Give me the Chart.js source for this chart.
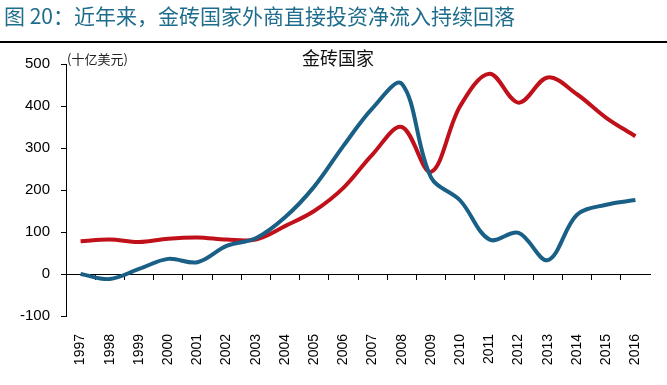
<!DOCTYPE html>
<html lang="zh">
<head>
  <meta charset="UTF-8">
  <title>金砖国家外商直接投资净流入</title>
  <script src="https://cdn.jsdelivr.net/npm/chart.js"></script>
  <style>
    html, body { margin: 0; padding: 0; background: #fff; }
    #wrap { position: relative; width: 667px; height: 385px; overflow: hidden; }
    #chartBox { position: absolute; left: 0; top: 0; width: 667px; height: 385px; }
    .txt { position: absolute; white-space: nowrap; font-family: "Noto Sans CJK SC", sans-serif; }
    #fig-title { left: 4px; top: 5px; font-size: 21px; line-height: 21px; color: #1f6d8c; }
    #rule { position: absolute; left: 0; top: 41px; width: 667px; height: 2px; background: #000; }
    #chart-title { left: 302px; top: 48px; width: 72px; text-align: center; font-size: 18px; line-height: 18px; color: #111; }
    #unit { left: 67px; top: 52px; font-size: 13px; line-height: 13px; color: #222; }
  </style>
</head>
<body>
  <div id="wrap">
    <div id="chartBox"><canvas id="fdiChart"></canvas></div>
    <div class="txt" id="fig-title">图 20：近年来，金砖国家外商直接投资净流入持续回落</div>
    <div id="rule"></div>
    <div class="txt" id="chart-title">金砖国家</div>
    <div class="txt" id="unit">(十亿美元)</div>
  </div>

  <script>
    // years on the x axis
    const years = ['1997', '1998', '1999', '2000', '2001', '2002', '2003', '2004', '2005', '2006',
                   '2007', '2008', '2009', '2010', '2011', '2012', '2013', '2014', '2015', '2016'];

    // blue series (十亿美元)
    const blueSeries = [0, -12, 12, 36, 28, 67, 85, 135, 208, 305,
                        395, 453, 230, 175, 82, 98, 33, 141, 165, 176];

    // red series (十亿美元)
    const redSeries = [78, 82, 76, 84, 87, 82, 82, 114, 150, 205,
                       285, 350, 243, 400, 477, 408, 468, 428, 372, 328];

    // y axis range / step
    const yMin = -100;
    const yMax = 500;
    const yStep = 100;

    const tickFont = { family: '"Liberation Sans", Arial, sans-serif', size: 15 };

    new Chart(document.getElementById('fdiChart'), {
      type: 'line',
      data: {
        labels: years,
        datasets: [
          {
            label: '蓝线',
            data: blueSeries,
            borderColor: '#1a5f86',
            borderWidth: 4,
            pointRadius: 0,
            tension: 0.35,
            fill: false
          },
          {
            label: '红线',
            data: redSeries,
            borderColor: '#c0111b',
            borderWidth: 4,
            pointRadius: 0,
            tension: 0.35,
            fill: false
          }
        ]
      },
      options: {
        responsive: true,
        maintainAspectRatio: false,
        animation: false,
        devicePixelRatio: 1,
        layout: { padding: { top: 64, right: 17, bottom: 0, left: 0 } },
        plugins: {
          legend: { display: false },
          title: { display: false },
          tooltip: { enabled: false }
        },
        scales: {
          // labels at the bottom
          x: {
            type: 'category',
            position: 'bottom',
            offset: true,
            grid: { display: false },
            border: { display: false },
            ticks: {
              autoSkip: false,
              minRotation: 90,
              maxRotation: 90,
              padding: 10,
              color: '#000',
              font: { family: '"Liberation Sans", Arial, sans-serif', size: 14 }
            },
            afterFit: s => { s.height = 69; }
          },
          // axis line through zero with the tick marks
          x0: {
            type: 'category',
            axis: 'x',
            position: { y: 0 },
            offset: true,
            grid: {
              offset: true,
              drawOnChartArea: false,
              drawTicks: true,
              tickLength: 5,
              lineWidth: 1,
              color: ctx => ctx.type === 'tick' ? '#000' : 'rgba(0,0,0,0)'
            },
            border: { display: true, color: '#000', width: 1 },
            ticks: { display: false }
          },
          y: {
            min: yMin,
            max: yMax,
            grid: {
              drawOnChartArea: false,
              drawTicks: true,
              tickLength: 5,
              color: '#000'
            },
            border: { display: true, color: '#000', width: 1 },
            ticks: {
              stepSize: yStep,
              padding: 11,
              color: '#000',
              font: tickFont
            },
            afterFit: s => { s.width = 66; }
          }
        }
      }
    });
  </script>
</body>
</html>
